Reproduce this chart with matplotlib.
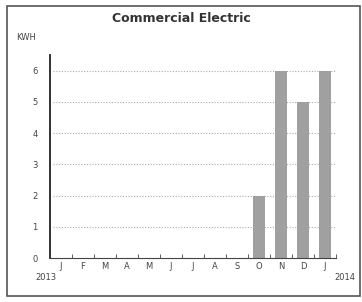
import matplotlib
matplotlib.use("Agg")
import matplotlib.pyplot as plt
from matplotlib.patches import Rectangle

months = ["J", "F", "M", "A", "M", "J", "J", "A", "S", "O", "N", "D", "J"]
kwh = [0, 0, 0, 0, 0, 0, 0, 0, 0, 2, 6, 5, 6]
y_ticks = [0, 1, 2, 3, 4, 5, 6]
years = ["2013", "2014"]

fig = plt.figure(figsize=(3.62, 3.02), dpi=100)
fig.patch.set_facecolor("white")

# Outer frame of the scanned panel.
fig.patches.append(Rectangle((7 / 362, 6 / 302), 353 / 362, 290 / 302,
                             transform=fig.transFigure, fill=False,
                             edgecolor="#555555", linewidth=1.2))

ax = fig.add_axes([50 / 362, 44 / 302, 286 / 362, 203 / 302])
x = range(len(months))
ax.bar(x, kwh, width=0.55, color="#a0a0a0", zorder=2)

ax.set_xlim(-0.5, len(months) - 0.5)
ax.set_ylim(0, 6.5)
ax.set_yticks(y_ticks)
ax.set_yticklabels([str(v) for v in y_ticks], fontsize=6, color="#444444")
ax.set_xticks(list(x))
ax.set_xticklabels(months, fontsize=6, color="#444444")
ax.set_xticks([i + 0.5 for i in x], minor=True)
ax.tick_params(axis="x", which="major", length=0, pad=3)
ax.tick_params(axis="x", which="minor", length=3, direction="in", color="#444444")
ax.tick_params(axis="y", length=0, pad=9)

for v in y_ticks[1:]:
    ax.axhline(v, xmin=0.01, color="#aaaaaa", linestyle=(0, (1, 1.5)),
               linewidth=0.8, zorder=1)

for side in ["top", "right"]:
    ax.spines[side].set_visible(False)
ax.spines["left"].set_color("#222222")
ax.spines["left"].set_linewidth(1.3)
ax.spines["bottom"].set_color("#444444")

fig.text(181 / 362, 1 - 19 / 302, "Commercial Electric", ha="center", va="center",
         fontsize=9, fontweight="bold", color="#333333")
fig.text(16 / 362, 1 - 37 / 302, "KWH", ha="left", va="center",
         fontsize=6, color="#444444")
fig.text(46 / 362, 1 - 278 / 302, years[0], ha="center", va="center",
         fontsize=6, color="#444444")
fig.text(345 / 362, 1 - 277 / 302, years[1], ha="center", va="center",
         fontsize=6, color="#444444")

fig.savefig("out.png", dpi=100)
